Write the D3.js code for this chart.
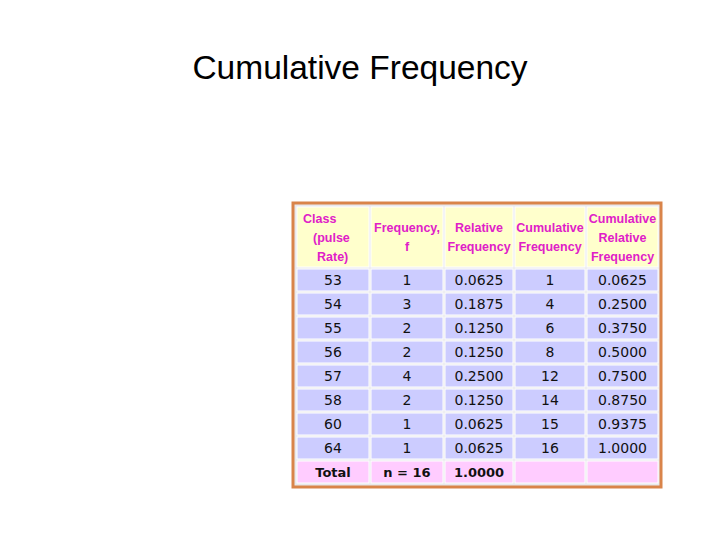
<!DOCTYPE html>
<html><head><meta charset="utf-8">
<script src="https://cdn.jsdelivr.net/npm/d3@7"></script>
<style>body{margin:0;background:#fff}</style>
</head><body>
<script>
var headers = [["Class", "(pulse", "Rate)"], ["Frequency,", "f"], ["Relative", "Frequency"], ["Cumulative", "Frequency"], ["Cumulative", "Relative", "Frequency"]];
var classes = ["53", "54", "55", "56", "57", "58", "60", "64"];
var freq = [1, 3, 2, 2, 4, 2, 1, 1];
var relFreq = ["0.0625", "0.1875", "0.1250", "0.1250", "0.2500", "0.1250", "0.0625", "0.0625"];
var cumFreq = [1, 4, 6, 8, 12, 14, 15, 16];
var cumRel = ["0.0625", "0.2500", "0.3750", "0.5000", "0.7500", "0.8750", "0.9375", "1.0000"];
var totals = ["Total", "n = 16", "1.0000", "", ""];

var svg = d3.select("body").append("svg").attr("width", 720).attr("height", 540);

svg.append("text").attr("x", 360).attr("y", 79).attr("text-anchor", "middle")
   .attr("font-family", "Liberation Sans, Arial, sans-serif").attr("font-size", "33.5px")
   .text("Cumulative Frequency");

// column edges
var colX = d3.scaleOrdinal().domain([0,1,2,3,4]).range([297, 371, 445, 515, 587]);
var colW = d3.scaleOrdinal().domain([0,1,2,3,4]).range([72, 72, 68, 70, 71]);
var rowY = d3.scaleLinear().domain([0, 1]).range([269, 293]);

// outer frame
svg.append("rect").attr("x", 293).attr("y", 203).attr("width", 368).attr("height", 284)
   .attr("fill", "#e8e8ec").attr("stroke", "#d9844a").attr("stroke-width", 3);

var rows = classes.map(function(c, i) { return [c, freq[i], relFreq[i], cumFreq[i], cumRel[i]]; });
rows.push(totals);

// header
var hg = svg.selectAll("g.h").data(headers).enter().append("g").attr("class", "h");
hg.append("rect").attr("x", function(d, i) { return colX(i); }).attr("y", 207)
  .attr("width", function(d, i) { return colW(i); }).attr("height", 60)
  .attr("fill", "#ffffcc").attr("stroke", "#ffffff").attr("stroke-width", 1);
hg.each(function(d, i) {
  var g = d3.select(this);
  var y0 = d.length == 2 ? 232 : 223;
  g.selectAll("text").data(d).enter().append("text")
   .attr("x", function(t, j) { return i == 0 ? colX(0) + 6 + [0, 10, 14][j] : colX(i) + colW(i) / 2; })
   .attr("y", function(t, j) { return y0 + j * 19; })
   .attr("text-anchor", i == 0 ? "start" : "middle")
   .attr("font-family", "Liberation Sans, Arial, sans-serif").attr("font-size", "12.5px").attr("font-weight", "bold")
   .attr("fill", "#e020c8")
   .text(function(t) { return t; });
});

var rg = svg.selectAll("g.r").data(rows).enter().append("g").attr("class", "r")
  .attr("transform", function(d, i) { return "translate(0," + rowY(i) + ")"; });
rg.each(function(d, ri) {
  var g = d3.select(this);
  var isTotal = ri == rows.length - 1;
  g.selectAll("rect").data(d).enter().append("rect")
   .attr("x", function(v, i) { return colX(i); }).attr("y", 0)
   .attr("width", function(v, i) { return colW(i); }).attr("height", 22)
   .attr("fill", isTotal ? "#ffccff" : "#ccccff").attr("stroke", "#ffffff");
  g.selectAll("text").data(d).enter().append("text")
   .attr("x", function(v, i) { return colX(i) + colW(i) / 2; }).attr("y", 16)
   .attr("text-anchor", "middle")
   .attr("font-family", "DejaVu Sans, sans-serif").attr("font-size", isTotal ? "13px" : "14px")
   .attr("font-weight", isTotal && ri >= 0 ? "bold" : "normal")
   .attr("fill", "#111")
   .text(function(v) { return v; });
});
</script>
</body></html>
